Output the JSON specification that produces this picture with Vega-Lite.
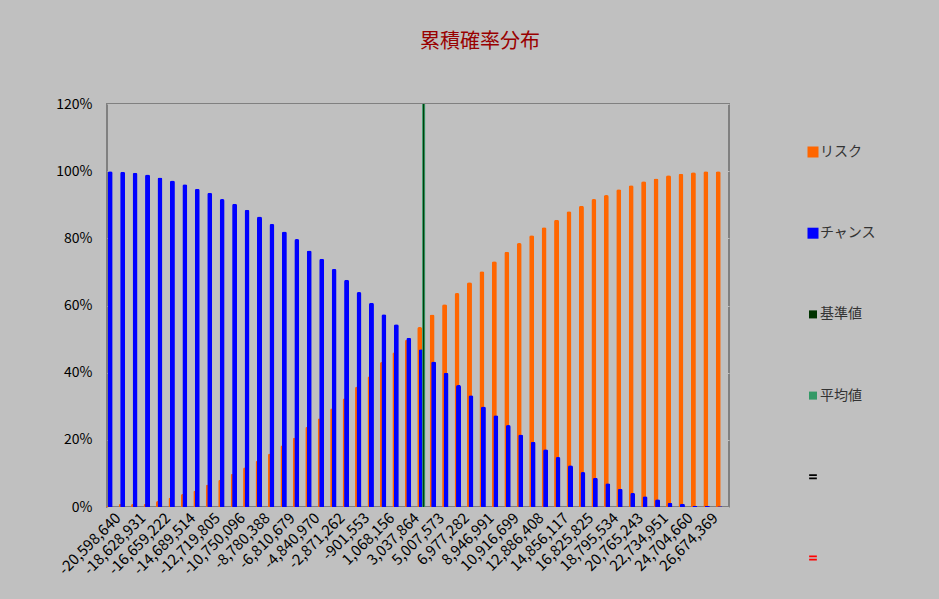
{
  "$schema": "https://vega.github.io/schema/vega-lite/v6.json",
  "autosize": "none",
  "width": 622,
  "height": 403,
  "padding": {"left": 107, "top": 104, "right": 210, "bottom": 92},
  "background": "#C0C0C0",
  "config": {
    "font": "Noto Sans CJK JP",
    "view": {"fill": "white", "stroke": "#808080", "strokeWidth": 2}
  },
  "title": {
    "text": "累積確率分布",
    "fontSize": 20,
    "color": "#990000",
    "fontWeight": "normal",
    "font": "Noto Sans CJK JP",
    "anchor": "middle",
    "offset": 45,
    "dx": 62
  },
  "datasets": {
    "cdf": [
      {"x": "-20,598,640", "risk": 0.003, "chance": 1.000},
      {"x": "-19,613,786", "risk": 0.009, "chance": 0.998},
      {"x": "-18,628,931", "risk": 0.009, "chance": 0.995},
      {"x": "-17,644,077", "risk": 0.009, "chance": 0.990},
      {"x": "-16,659,222", "risk": 0.018, "chance": 0.981},
      {"x": "-15,674,368", "risk": 0.028, "chance": 0.972},
      {"x": "-14,689,514", "risk": 0.039, "chance": 0.961},
      {"x": "-13,704,659", "risk": 0.049, "chance": 0.948},
      {"x": "-12,719,805", "risk": 0.067, "chance": 0.936},
      {"x": "-11,734,950", "risk": 0.081, "chance": 0.917},
      {"x": "-10,750,096", "risk": 0.099, "chance": 0.903},
      {"x": "-9,765,242", "risk": 0.118, "chance": 0.885},
      {"x": "-8,780,388", "risk": 0.138, "chance": 0.865},
      {"x": "-7,795,533", "risk": 0.159, "chance": 0.843},
      {"x": "-6,810,679", "risk": 0.184, "chance": 0.820},
      {"x": "-5,825,824", "risk": 0.207, "chance": 0.798},
      {"x": "-4,840,970", "risk": 0.239, "chance": 0.764},
      {"x": "-3,856,116", "risk": 0.264, "chance": 0.739},
      {"x": "-2,871,262", "risk": 0.294, "chance": 0.709},
      {"x": "-1,886,407", "risk": 0.324, "chance": 0.677},
      {"x": "-901,553", "risk": 0.359, "chance": 0.640},
      {"x": "83,302", "risk": 0.389, "chance": 0.608},
      {"x": "1,068,156", "risk": 0.432, "chance": 0.574},
      {"x": "2,053,010", "risk": 0.461, "chance": 0.544},
      {"x": "3,037,864", "risk": 0.498, "chance": 0.504},
      {"x": "4,022,719", "risk": 0.536, "chance": 0.470},
      {"x": "5,007,573", "risk": 0.573, "chance": 0.433},
      {"x": "5,992,428", "risk": 0.604, "chance": 0.400},
      {"x": "6,977,282", "risk": 0.637, "chance": 0.363},
      {"x": "7,962,136", "risk": 0.669, "chance": 0.333},
      {"x": "8,946,991", "risk": 0.702, "chance": 0.299},
      {"x": "9,931,845", "risk": 0.732, "chance": 0.273},
      {"x": "10,916,699", "risk": 0.760, "chance": 0.244},
      {"x": "11,901,554", "risk": 0.786, "chance": 0.216},
      {"x": "12,886,408", "risk": 0.809, "chance": 0.194},
      {"x": "13,871,262", "risk": 0.833, "chance": 0.172},
      {"x": "14,856,117", "risk": 0.855, "chance": 0.149},
      {"x": "15,840,971", "risk": 0.881, "chance": 0.124},
      {"x": "16,825,825", "risk": 0.897, "chance": 0.104},
      {"x": "17,810,680", "risk": 0.917, "chance": 0.087},
      {"x": "18,795,534", "risk": 0.929, "chance": 0.071},
      {"x": "19,780,388", "risk": 0.946, "chance": 0.054},
      {"x": "20,765,243", "risk": 0.958, "chance": 0.042},
      {"x": "21,750,097", "risk": 0.970, "chance": 0.032},
      {"x": "22,734,951", "risk": 0.978, "chance": 0.023},
      {"x": "23,719,806", "risk": 0.988, "chance": 0.013},
      {"x": "24,704,660", "risk": 0.992, "chance": 0.010},
      {"x": "25,689,515", "risk": 0.997, "chance": 0.004},
      {"x": "26,674,369", "risk": 1.000, "chance": 0.003},
      {"x": "27,659,223", "risk": 1.000, "chance": 0.002}
    ],
    "lines": [{"x": "4,022,719"}],
    "legendItems": [
      {"series": "リスク"},
      {"series": "チャンス"},
      {"series": "基準値"},
      {"series": "平均値"},
      {"series": "系列5"},
      {"series": "系列6"}
    ]
  },
  "layer": [
    {
      "data": {"name": "cdf"},
      "mark": {"type": "bar", "color": "#FF6600", "width": 5, "xOffset": -4.5, "cornerRadiusEnd": 2},
      "encoding": {
        "x": {
          "field": "x",
          "type": "ordinal",
          "sort": null,
          "scale": {"paddingInner": 0, "paddingOuter": 0},
          "axis": {
            "title": null,
            "values": ["-20,598,640", "-18,628,931", "-16,659,222", "-14,689,514", "-12,719,805", "-10,750,096", "-8,780,388", "-6,810,679", "-4,840,970", "-2,871,262", "-901,553", "1,068,156", "3,037,864", "5,007,573", "6,977,282", "8,946,991", "10,916,699", "12,886,408", "14,856,117", "16,825,825", "18,795,534", "20,765,243", "22,734,951", "24,704,660", "26,674,369"],
            "labelAngle": -45,
            "ticks": false,
            "domain": false,
            "grid": false,
            "labelFontSize": 15,
            "labelColor": "#000000",
            "labelPadding": 3
          }
        },
        "y": {
          "field": "risk",
          "type": "quantitative",
          "scale": {"domain": [0, 1.2], "nice": false},
          "axis": {
            "title": null,
            "format": "%",
            "values": [0, 0.2, 0.4, 0.6, 0.8, 1.0, 1.2],
            "grid": true,
            "gridColor": "#C0C0C0",
            "gridWidth": 1,
            "ticks": false,
            "domain": false,
            "labelPadding": 15,
            "labelFontSize": 14,
            "labelColor": "#000000"
          }
        }
      }
    },
    {
      "data": {"name": "cdf"},
      "mark": {"type": "bar", "color": "#0000FF", "width": 5, "xOffset": -3, "cornerRadiusEnd": 2},
      "encoding": {
        "x": {"field": "x", "type": "ordinal", "sort": null},
        "y": {"field": "chance", "type": "quantitative"}
      }
    },
    {
      "data": {"name": "lines"},
      "mark": {"type": "rule", "color": "#339966", "strokeWidth": 3, "xOffset": -0.6},
      "encoding": {"x": {"field": "x", "type": "ordinal", "sort": null}}
    },
    {
      "data": {"name": "lines"},
      "mark": {"type": "rule", "color": "#003300", "strokeWidth": 1, "xOffset": -0.6},
      "encoding": {"x": {"field": "x", "type": "ordinal", "sort": null}}
    },
    {
      "data": {"name": "legendItems"},
      "mark": {"type": "point", "filled": true, "opacity": 0},
      "encoding": {
        "color": {
          "field": "series",
          "type": "nominal",
          "scale": {
            "domain": ["リスク", "チャンス", "基準値", "平均値", "系列5", "系列6"],
            "range": ["#FF6600", "#0000FF", "#003300", "#339966", "#000000", "#FF0000"]
          },
          "legend": {
            "title": null,
            "orient": "none",
            "legendX": 699,
            "legendY": 41,
            "direction": "vertical",
            "symbolSize": 121,
            "symbolOpacity": 1,
            "symbolStrokeWidth": 0,
            "labelFontSize": 14,
            "labelColor": "#333333",
            "labelFont": "Noto Sans CJK JP",
            "labelOffset": 0,
            "rowPadding": 67.2,
            "padding": 0,
            "labelExpr": "datum.label == '系列5' || datum.label == '系列6' ? '' : datum.label",
            "encode": {
              "symbols": {
                "update": {
                  "opacity": {"value": 1},
                  "fillOpacity": {"value": 1},
                  "strokeOpacity": {"value": 0}
                }
              }
            }
          }
        },
        "shape": {
          "field": "series",
          "type": "nominal",
          "scale": {
            "domain": ["リスク", "チャンス", "基準値", "平均値", "系列5", "系列6"],
            "range": ["square", "square", "M-0.73,-0.73H0.73V0.73H-0.73Z", "M-0.73,-0.73H0.73V0.73H-0.73Z", "M-0.7,-0.45H0.7V-0.15H-0.7Z M-0.7,0.15H0.7V0.45H-0.7Z", "M-0.7,-0.45H0.7V-0.15H-0.7Z M-0.7,0.15H0.7V0.45H-0.7Z"]
          }
        }
      }
    }
  ]
}
